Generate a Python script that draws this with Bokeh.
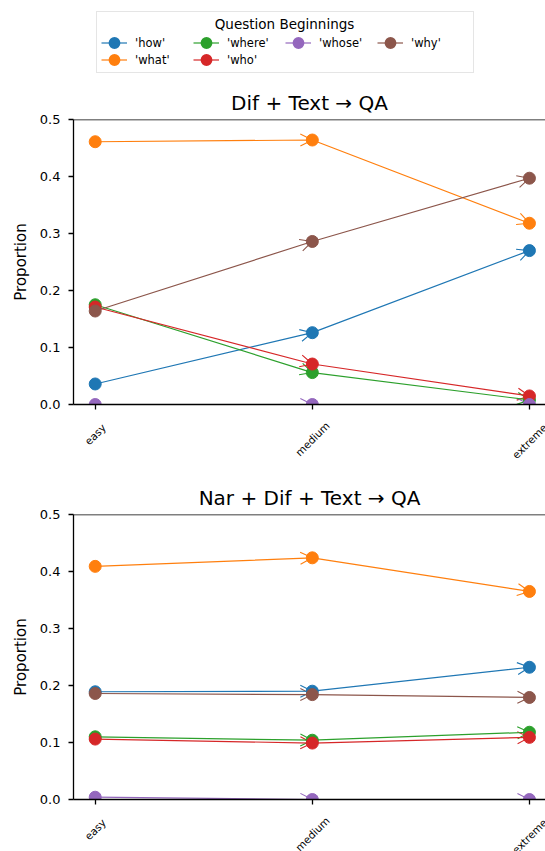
import math
from bokeh.plotting import figure
from bokeh.models import (Arrow, OpenHead, Span, Legend, LegendItem,
                          FixedTicker, PrintfTickFormatter, Range1d)
from bokeh.core.properties import value
from bokeh.layouts import column
from bokeh.embed import file_html
from bokeh.resources import INLINE

# ---------------- data ----------------
levels = ["easy", "medium", "extreme"]
series = ["'how'", "'what'", "'where'", "'who'", "'whose'", "'why'"]
colors = ["#1f77b4", "#ff7f0e", "#2ca02c", "#d62728", "#9467bd", "#8c564b"]

dif_how = [0.036, 0.126, 0.270]
dif_what = [0.461, 0.464, 0.318]
dif_where = [0.175, 0.056, 0.008]
dif_who = [0.171, 0.071, 0.015]
dif_whose = [0.0, 0.0, 0.0]
dif_why = [0.164, 0.286, 0.397]

nar_how = [0.189, 0.190, 0.232]
nar_what = [0.409, 0.424, 0.365]
nar_where = [0.110, 0.104, 0.118]
nar_who = [0.106, 0.099, 0.109]
nar_whose = [0.004, 0.0, 0.0]
nar_why = [0.186, 0.184, 0.179]

y_ticks = [0.0, 0.1, 0.2, 0.3, 0.4, 0.5]

title_top = "Dif + Text \u2192 QA"
title_bottom = "Nar + Dif + Text \u2192 QA"
legend_title = "Question Beginnings"

FONT = "DejaVu Sans"
xs = list(range(len(levels)))
X_RANGE = Range1d(-0.1, 2.074)
TICK_FS = 10.5
LEFT = 73
FRAME_W = 472


def make_panel(title, data, top_border, bottom_border):
    p = figure(frame_width=FRAME_W, frame_height=285,
               x_range=X_RANGE, y_range=Range1d(0, 0.5),
               toolbar_location=None, output_backend="svg",
               min_border_left=LEFT, min_border_right=0,
               min_border_top=top_border, min_border_bottom=bottom_border)
    p.outline_line_color = None
    p.xgrid.visible = False
    p.ygrid.visible = False

    p.title.text = title
    p.title.align = "center"
    p.title.text_font = FONT
    p.title.text_font_size = "20px"
    p.title.text_font_style = "normal"
    p.title.text_color = "black"
    p.title.standoff = 9

    for ax in (p.xaxis[0], p.yaxis[0]):
        ax.axis_line_width = 1.3
        ax.axis_line_color = "black"
        ax.major_tick_line_width = 1.3
        ax.major_tick_line_color = "black"
        ax.major_tick_out = 5
        ax.major_tick_in = 0
        ax.minor_tick_out = 0
        ax.minor_tick_in = 0
        ax.major_label_text_color = "black"
        ax.major_label_text_font = FONT

    # category labels are drawn rotated & centred in the strip below
    p.xaxis.ticker = FixedTicker(ticks=xs)
    p.xaxis.major_label_text_font_size = "1px"
    p.xaxis.major_label_text_color = None
    p.xaxis.major_label_standoff = 0

    p.yaxis.ticker = FixedTicker(ticks=y_ticks)
    p.yaxis.formatter = PrintfTickFormatter(format="%.1f")
    p.yaxis.major_label_text_font_size = "13px"
    p.yaxis.major_label_standoff = 8
    p.yaxis.axis_label = "Proportion"
    p.yaxis.axis_label_text_font = FONT
    p.yaxis.axis_label_text_font_size = "15px"
    p.yaxis.axis_label_text_font_style = "normal"
    p.yaxis.axis_label_text_color = "black"
    p.yaxis.axis_label_standoff = 7

    # top spine
    p.add_layout(Span(location=0.5, dimension="width", line_color="black", line_width=1.3))

    for name, color, vals in zip(series, colors, data):
        for i in range(len(vals) - 1):
            p.add_layout(Arrow(end=OpenHead(size=12, line_color=color, line_width=1.1),
                               x_start=xs[i], y_start=vals[i],
                               x_end=xs[i + 1], y_end=vals[i + 1],
                               line_alpha=0, level="underlay"))
        p.line(xs, vals, line_color=color, line_width=1.2)
        p.scatter(xs, vals, size=12, fill_color=color, line_color=color, line_width=1)
    return p


def make_tick_strip(height, axis_gap):
    """Strip under a panel that carries the rotated, tick-centred category labels."""
    s = figure(frame_width=FRAME_W, frame_height=height,
               x_range=X_RANGE, y_range=Range1d(0, height),
               toolbar_location=None, output_backend="svg",
               x_axis_location=None, y_axis_location=None,
               min_border_left=LEFT, min_border_right=0,
               min_border_top=0, min_border_bottom=0)
    s.outline_line_color = None
    s.grid.visible = False
    ys = []
    for lab in levels:
        est_w = 0.62 * TICK_FS * len(lab)
        below_axis = 17.7 + 0.707 * (est_w + 8) / 2
        ys.append(height - (below_axis - axis_gap))
    s.text(x=xs, y=ys, text=levels, angle=math.pi / 4,
           text_align="center", text_baseline="middle",
           text_font=value(FONT), text_font_size=value(f"{TICK_FS}px"),
           text_color="black")
    return s


dif_data = [dif_how, dif_what, dif_where, dif_who, dif_whose, dif_why]
nar_data = [nar_how, nar_what, nar_where, nar_who, nar_whose, nar_why]

# ---------------- legend strip ----------------
LEG_H = 83
leg = figure(frame_width=FRAME_W, frame_height=LEG_H, x_range=(0, 1), y_range=(10, 11),
             toolbar_location=None, output_backend="svg",
             x_axis_location=None, y_axis_location=None,
             min_border_left=LEFT, min_border_right=0,
             min_border_top=0, min_border_bottom=0)
leg.outline_line_color = None
leg.grid.visible = False

items = []
for name, color, vals in zip(series, colors, dif_data):
    # legend-only renderers: their data lies outside this strip's ranges
    lr = leg.line(xs, vals, line_color=color, line_width=1.2)
    sr = leg.scatter(xs, vals, size=8, fill_color=color, line_color=color, line_width=5)
    items.append(LegendItem(label=name, renderers=[lr, sr]))

# row-major order that reproduces matplotlib's column-major 4-column layout
order = [0, 2, 4, 5, 1, 3]
legend = Legend(items=[items[k] for k in order], orientation="horizontal", ncols=4,
                location=(96 - LEFT, LEG_H - 73), title=" ", title_text_font_size="13.5px",
                title_standoff=3, padding=4, spacing=0, margin=0,
                label_standoff=8, glyph_width=26, glyph_height=17,
                label_height=17, label_width=58,
                label_text_font=FONT, label_text_font_size="11.5px",
                label_text_color="black",
                border_line_color="#cccccc", border_line_width=1,
                background_fill_color=None)
leg.add_layout(legend, "center")
leg.text(x=[(284 - LEFT) / FRAME_W], y=[10 + (LEG_H - 23) / LEG_H], text=[legend_title],
         text_align="center", text_baseline="middle",
         text_font=value(FONT), text_font_size=value("13.5px"), text_color="black")

p1 = make_panel(title_top, dif_data, 36, 10)
s1 = make_tick_strip(64, 10)
p2 = make_panel(title_bottom, nar_data, 36, 10)
s2 = make_tick_strip(42, 10)

layout = column(leg, p1, s1, p2, s2, spacing=0)
open("out.html", "w").write(file_html(layout, INLINE))
